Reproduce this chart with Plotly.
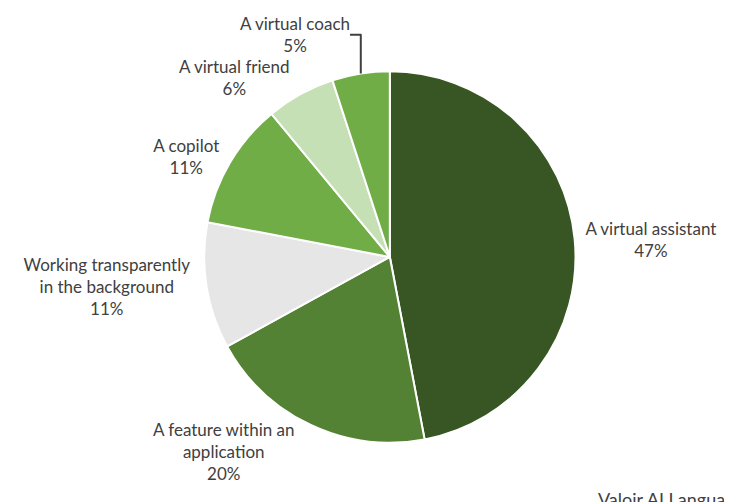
import plotly.graph_objects as go

labels = ["A virtual assistant", "A feature within an<br>application",
          "Working transparently<br>in the background", "A copilot",
          "A virtual friend", "A virtual coach"]
shares = [47, 20, 11, 11, 6, 5]
colors = ["#375623", "#548235", "#e7e6e6", "#70ad47", "#c5e0b4", "#70ad47"]

fig = go.Figure()

fig.add_trace(go.Pie(labels=labels,
                     values=shares,
                     sort=False,
                     direction='clockwise',
                     rotation=0,
                     marker={'colors': colors, 'line': {'color': 'white', 'width': 2}},
                     textposition='outside',
                     texttemplate="%{label}<br>%{value}%",
                     textfont={'family': 'Lato', 'size': 17, 'color': '#404040'},
                     domain={'x': [0.25, 0.78], 'y': [0.14, 0.912]},
                     showlegend=False,
                     hoverinfo='label+percent'
                     ))

# source line, partly cut off by the bottom/right edge like in the original screenshot
fig.add_annotation(text="Valoir AI Language Survey",
                   x=0.8, y=0.05, xref='paper', yref='paper',
                   xanchor='left', yanchor='top', showarrow=False,
                   font={'family': 'Lato', 'size': 18, 'color': '#404040'})

fig.update_layout(width=732, height=502,
                  margin={'l': 0, 'r': 0, 't': 0, 'b': 0},
                  paper_bgcolor='white',
                  plot_bgcolor='white')

fig.write_html("out.html")
